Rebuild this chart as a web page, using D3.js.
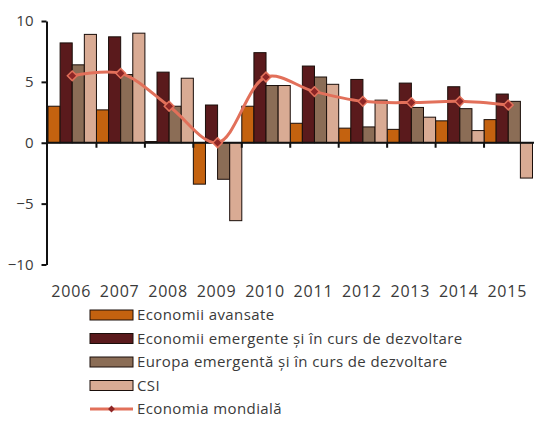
<!DOCTYPE html>
<html>
<head>
<meta charset="utf-8">
<script src="https://cdn.jsdelivr.net/npm/d3@7"></script>
<style>
  body { margin: 0; background: #fff; }
  text { font-family: "Open Sans", sans-serif; }
</style>
</head>
<body>
<svg id="chart" width="534" height="422"></svg>
<script>
// Years on the x axis.
const years = ["2006", "2007", "2008", "2009", "2010", "2011", "2012", "2013", "2014", "2015"];
// Bar series (% growth).
const economiiAvansate = [3.0, 2.7, 0.1, -3.4, 3.0, 1.6, 1.2, 1.1, 1.8, 1.9];
const economiiEmergente = [8.2, 8.7, 5.8, 3.1, 7.4, 6.3, 5.2, 4.9, 4.6, 4.0];
const europaEmergenta = [6.4, 5.6, 3.0, -3.0, 4.7, 5.4, 1.3, 2.9, 2.8, 3.4];
const csi = [8.9, 9.0, 5.3, -6.4, 4.7, 4.8, 3.5, 2.1, 1.0, -2.9];
// Line series.
const economiaMondiala = [5.5, 5.7, 3.0, 0.0, 5.4, 4.2, 3.4, 3.3, 3.4, 3.1];
const yTicks = [-10, -5, 0, 5, 10];

const barSeries = [
  { name: "Economii avansate", values: economiiAvansate, color: "#c4620f" },
  { name: "Economii emergente și în curs de dezvoltare", values: economiiEmergente, color: "#5a1a1c" },
  { name: "Europa emergentă și în curs de dezvoltare", values: europaEmergenta, color: "#8b6d56" },
  { name: "CSI", values: csi, color: "#d9ab94" }
];
const lineColor = "#e2705a";
const markerColor = "#8e2626";
const textColor = "#3a3a3a";

const svg = d3.select("#chart");

// Scales.
const x = d3.scaleBand()
  .domain(years)
  .range([48, 532.5])
  .padding(0);
const xInner = d3.scaleBand()
  .domain(barSeries.map(s => s.name))
  .range([0, x.bandwidth()])
  .padding(0);
const y = d3.scaleLinear()
  .domain([-10, 10])
  .range([264.5, 21]);

// Draw the bars, one group per series.
barSeries.forEach(s => {
  svg.append("g")
    .selectAll("rect")
    .data(s.values)
    .join("rect")
    .attr("x", (d, i) => x(years[i]) + xInner(s.name))
    .attr("y", d => y(Math.max(0, d)))
    .attr("width", xInner.bandwidth())
    .attr("height", d => Math.abs(y(d) - y(0)))
    .attr("fill", s.color)
    .attr("stroke", "#1a0e0a")
    .attr("stroke-width", 1);
});

// Y axis.
const yAxis = svg.append("g")
  .attr("transform", "translate(46.5,0)")
  .call(d3.axisLeft(y).tickValues(yTicks).tickSize(5).tickSizeOuter(0).tickPadding(8));
yAxis.select(".domain").attr("stroke", "#111").attr("stroke-width", 2);
yAxis.selectAll(".tick line").attr("stroke", "#111").attr("stroke-width", 2);
yAxis.selectAll(".tick text")
  .attr("font-size", "15px")
  .attr("fill", textColor)
  .style("font-family", "'Open Sans', sans-serif");

// Zero line with ticks at category boundaries.
svg.append("line")
  .attr("x1", 46)
  .attr("x2", 534)
  .attr("y1", y(0))
  .attr("y2", y(0))
  .attr("stroke", "#111")
  .attr("stroke-width", 2);
svg.append("g")
  .selectAll("line")
  .data(years.slice(1))
  .join("line")
  .attr("x1", d => x(d))
  .attr("x2", d => x(d))
  .attr("y1", y(0))
  .attr("y2", y(0) + 5)
  .attr("stroke", "#111")
  .attr("stroke-width", 2);

// Year labels below the plot.
svg.append("g")
  .selectAll("text")
  .data(years)
  .join("text")
  .attr("x", d => x(d) + x.bandwidth() / 2 - 1)
  .attr("y", 297)
  .attr("text-anchor", "middle")
  .attr("font-size", "16px")
  .attr("letter-spacing", "0.8px")
  .attr("fill", textColor)
  .text(d => d);

// World economy line (smoothed) with diamond markers.
const line = d3.line()
  .x((d, i) => x(years[i]) + x.bandwidth() / 2)
  .y(d => y(d))
  .curve(d3.curveCatmullRom.alpha(0.5));
svg.append("path")
  .datum(economiaMondiala)
  .attr("d", line)
  .attr("fill", "none")
  .attr("stroke", lineColor)
  .attr("stroke-width", 3);
svg.append("g")
  .selectAll("path")
  .data(economiaMondiala)
  .join("path")
  .attr("transform", (d, i) => `translate(${x(years[i]) + x.bandwidth() / 2},${y(d)})`)
  .attr("d", d3.symbol(d3.symbolDiamond2, 60))
  .attr("fill", markerColor)
  .attr("stroke", lineColor)
  .attr("stroke-width", 1.5);

// Legend.
const legend = svg.append("g").attr("transform", "translate(90,0)");
const rowY = i => 315 + i * 23.5;
barSeries.forEach((s, i) => {
  legend.append("rect")
    .attr("x", 0)
    .attr("y", rowY(i) - 5)
    .attr("width", 43)
    .attr("height", 10)
    .attr("fill", s.color)
    .attr("stroke", "#1a0e0a")
    .attr("stroke-width", 1);
  legend.append("text")
    .attr("x", 47)
    .attr("y", rowY(i))
    .attr("dy", "0.35em")
    .attr("font-size", "15px")
    .attr("letter-spacing", "0.4px")
    .attr("fill", textColor)
    .text(s.name);
});
legend.append("line")
  .attr("x1", 0)
  .attr("x2", 43)
  .attr("y1", rowY(4))
  .attr("y2", rowY(4))
  .attr("stroke", lineColor)
  .attr("stroke-width", 3);
legend.append("path")
  .attr("transform", `translate(21.5,${rowY(4)})`)
  .attr("d", d3.symbol(d3.symbolDiamond2, 30))
  .attr("fill", markerColor);
legend.append("text")
  .attr("x", 47)
  .attr("y", rowY(4))
  .attr("dy", "0.35em")
  .attr("font-size", "15px")
  .attr("letter-spacing", "0.4px")
  .attr("fill", textColor)
  .text("Economia mondială");
</script>
</body>
</html>
